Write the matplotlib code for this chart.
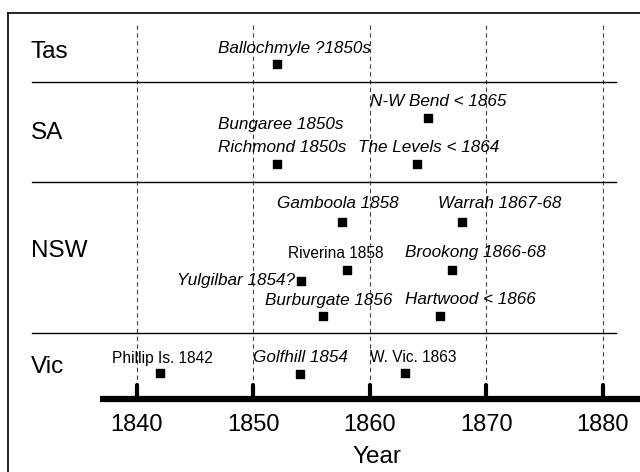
import matplotlib
matplotlib.use("Agg")
import matplotlib.pyplot as plt

plt.rcParams["font.family"] = ["Liberation Sans", "DejaVu Sans"]

# regions and their separators (y in pixel rows from top)
regions = ["Tas", "SA", "NSW", "Vic"]
region_y = [52, 133, 251, 367]
separators_y = [82, 182, 333]

decades = [1840, 1850, 1860, 1870, 1880]

# stations and the year each is marked at
names = ["Ballochmyle ?1850s", "N-W Bend < 1865", "Bungaree 1850s", "Richmond 1850s",
         "The Levels < 1864", "Gamboola 1858", "Warrah 1867-68", "Riverina 1858",
         "Brookong 1866-68", "Yulgilbar 1854?", "Burburgate 1856", "Hartwood < 1866",
         "Phillip Is. 1842", "Golfhill 1854", "W. Vic. 1863"]
mark_year = [1852, 1865, None, 1852, 1864, 1857.6, 1867.9, 1858, 1867, 1854.1, 1856,
             1866, 1842, 1854, 1863]
italic = [True, True, True, True, True, True, True, False, True, True, True, True,
          False, True, False]

# layout (pixels from top-left)
mark_row = [64, 118, None, 164, 164, 222, 222, 270, 270, 281, 316, 316, 373, 374, 373]
label_left = [218, 370, 218, 218, 358, 277, 438, 288, 405, 177, 265, 405, 112, 253, 370]
label_row = [48, 101, 125, 148, 148, 204, 204, 253, 253, 280, 300, 300, 358, 358, 358]

PX = 11.65  # pixels per year
X0 = 1840 - 137 / PX


def px2yr(px):
    return X0 + px / PX


fig = plt.figure(figsize=(6.4, 4.72), dpi=100)
ax = fig.add_axes([0, 0, 1, 1])
ax.set_xlim(px2yr(0), px2yr(640))
ax.set_ylim(472, 0)
ax.axis("off")

# outer frame
ax.plot([px2yr(8), px2yr(640)], [13, 13], color="black", lw=1.2)
ax.plot([px2yr(8), px2yr(8)], [13, 472], color="black", lw=1.2)

# dashed decade lines
for d in decades:
    ax.plot([d, d], [25, 398], color="#444444", lw=0.8, ls=(0, (4, 3)))

# separators
for s in separators_y:
    ax.plot([px2yr(32), px2yr(616)], [s, s], color="black", lw=1.0)

# time axis
ax.plot([px2yr(100), px2yr(640)], [398.5, 398.5], color="black", lw=4.5,
        solid_capstyle="butt")
for d in decades:
    ax.plot([d, d], [385, 398], color="black", lw=3.0, solid_capstyle="round")
    ax.text(d, 425, str(d), ha="center", va="center", fontsize=17)
ax.text(px2yr(377), 457, "Year", ha="center", va="center", fontsize=17.5)

for r, y in zip(regions, region_y):
    ax.text(px2yr(31), y, r, ha="left", va="center", fontsize=17.5)

for n, my, mr, lx, ly, it in zip(names, mark_year, mark_row, label_left, label_row, italic):
    if my is not None:
        ax.scatter([my], [mr], marker="s", s=40, color="black", zorder=3)
    ax.text(px2yr(lx), ly, n, ha="left", va="center",
            fontsize=12.3 if it else 11.2,
            style="italic" if it else "normal")

fig.savefig("out.png", dpi=100)
